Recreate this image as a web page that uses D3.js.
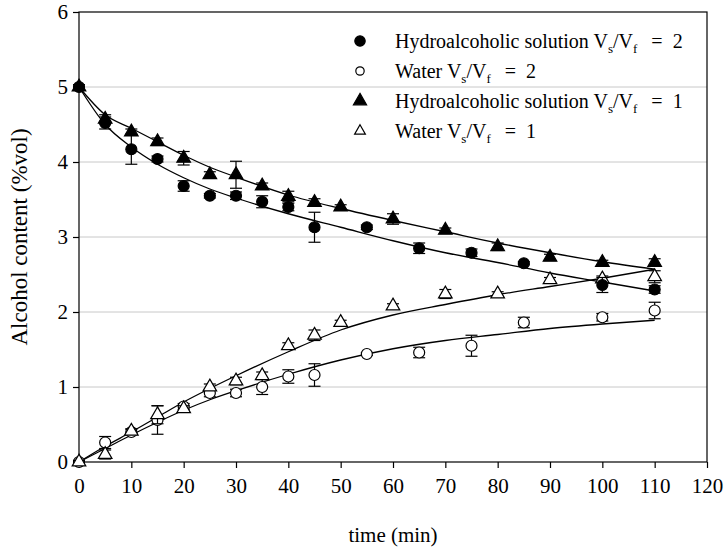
<!DOCTYPE html>
<html>
<head>
<meta charset="utf-8">
<script src="https://cdn.jsdelivr.net/npm/d3@7"></script>
<style>
  body { margin: 0; background: #fff; }
  svg text { font-family: "Liberation Serif", "Times New Roman", "DejaVu Serif", serif !important; fill: #000; }
</style>
</head>
<body>
<svg id="chart" width="724" height="549"></svg>
<script>
// measured points (time in min, alcohol %vol, +/- error)
const hydro2T = [0, 5, 10, 15, 20, 25, 30, 35, 40, 45, 55, 65, 75, 85, 100, 110];
const hydro2V = [5.0, 4.52, 4.17, 4.04, 3.68, 3.55, 3.55, 3.47, 3.40, 3.13, 3.13, 2.85, 2.79, 2.65, 2.36, 2.30];
const hydro2E = [0.03, 0.08, 0.2, 0.04, 0.07, 0.03, 0.05, 0.08, 0.05, 0.2, 0.03, 0.07, 0.05, 0.02, 0.1, 0.05];

const water2T = [0, 5, 10, 15, 20, 25, 30, 35, 40, 45, 55, 65, 75, 85, 100, 110];
const water2V = [0.0, 0.26, 0.40, 0.56, 0.74, 0.92, 0.92, 1.00, 1.14, 1.16, 1.44, 1.46, 1.55, 1.86, 1.93, 2.02];
const water2E = [0.02, 0.08, 0.04, 0.19, 0.04, 0.05, 0.05, 0.1, 0.09, 0.15, 0.02, 0.07, 0.14, 0.07, 0.05, 0.11];

const hydro1T = [0, 5, 10, 15, 20, 25, 30, 35, 40, 45, 50, 60, 70, 80, 90, 100, 110];
const hydro1V = [5.0, 4.57, 4.40, 4.27, 4.05, 3.83, 3.83, 3.68, 3.54, 3.46, 3.40, 3.24, 3.09, 2.87, 2.73, 2.66, 2.66];
const hydro1E = [0.03, 0.06, 0.04, 0.05, 0.09, 0.04, 0.18, 0.04, 0.07, 0.05, 0.03, 0.07, 0.03, 0.05, 0.04, 0.03, 0.05];

const water1T = [0, 5, 10, 15, 20, 25, 30, 35, 40, 45, 50, 60, 70, 80, 90, 100, 110];
const water1V = [0.0, 0.10, 0.41, 0.63, 0.71, 1.00, 1.08, 1.15, 1.55, 1.69, 1.86, 2.08, 2.24, 2.24, 2.43, 2.44, 2.47];
const water1E = [0.02, 0.06, 0.03, 0.12, 0.04, 0.04, 0.05, 0.05, 0.04, 0.07, 0.03, 0.03, 0.06, 0.03, 0.03, 0.04, 0.08];

// fitted curves
const fitT = [0, 5, 10, 15, 20, 25, 30, 40, 50, 60, 70, 80, 90, 100, 110];
const fitHydro2 = [5.0, 4.50, 4.20, 3.97, 3.79, 3.64, 3.52, 3.31, 3.13, 2.95, 2.79, 2.66, 2.52, 2.40, 2.28];
const fitHydro1 = [5.0, 4.63, 4.45, 4.27, 4.09, 3.93, 3.80, 3.56, 3.38, 3.22, 3.07, 2.92, 2.79, 2.67, 2.57];
const fitWater1 = [0.0, 0.21, 0.40, 0.60, 0.80, 0.98, 1.15, 1.47, 1.76, 1.96, 2.10, 2.23, 2.34, 2.45, 2.57];
const fitWater2 = [0.0, 0.18, 0.36, 0.53, 0.69, 0.83, 0.95, 1.17, 1.36, 1.51, 1.62, 1.70, 1.78, 1.84, 1.89];

const xTicks = d3.range(0, 121, 10);
const yTicks = [0, 1, 2, 3, 4, 5, 6];

const legendNames = ["Hydroalcoholic solution", "Water", "Hydroalcoholic solution", "Water"];
const legendRatio = ["2", "2", "1", "1"];

const svg = d3.select("#chart");
const margin = { top: 12, right: 17, bottom: 87, left: 79 };
const width = 724 - margin.left - margin.right;
const height = 549 - margin.top - margin.bottom;

const x = d3.scaleLinear().domain([0, 120]).range([margin.left, margin.left + width]);
const y = d3.scaleLinear().domain([0, 6]).range([margin.top + height, margin.top]);

// grid
svg.append("g")
    .selectAll("line")
    .data(yTicks.filter(d => d > 0 && d < 6))
    .enter()
    .append("line")
    .attr("x1", x(0)).attr("x2", x(120))
    .attr("y1", d => y(d)).attr("y2", d => y(d))
    .style("stroke", "#c8c8c8")
    .style("stroke-width", 1);

// frame
svg.append("rect")
    .attr("x", x(0)).attr("y", y(6))
    .attr("width", x(120) - x(0)).attr("height", y(0) - y(6))
    .style("fill", "none").style("stroke", "#000").style("stroke-width", 1.2);

const xAxis = svg.append("g")
    .attr("transform", `translate(0,${y(0)})`)
    .call(d3.axisBottom(x).tickValues(xTicks).tickSize(6).tickPadding(10));
const yAxis = svg.append("g")
    .attr("transform", `translate(${x(0)},0)`)
    .call(d3.axisLeft(y).tickValues(yTicks).tickSize(6).tickPadding(5).tickFormat(d3.format("d")));
[xAxis, yAxis].forEach(a => {
    a.select(".domain").remove();
    a.attr("font-family", null).attr("font-size", null);
    a.selectAll("line").style("stroke", "#000").style("stroke-width", 1.2);
    a.selectAll("text").style("font-size", "21px");
});

// fitted lines
const line = d3.line().x(d => x(d[0])).y(d => y(d[1])).curve(d3.curveMonotoneX);
[fitHydro2, fitHydro1, fitWater1, fitWater2].forEach(vals => {
    svg.append("path")
        .datum(fitT.map((t, i) => [t, vals[i]]))
        .attr("d", line)
        .style("fill", "none")
        .style("stroke", "#000")
        .style("stroke-width", 1.3);
});

const series = [
    { t: water2T, v: water2V, e: water2E, type: d3.symbolCircle, size: 95, fill: "#fff" },
    { t: water1T, v: water1V, e: water1E, type: d3.symbolTriangle, size: 80, fill: "#fff" },
    { t: hydro2T, v: hydro2V, e: hydro2E, type: d3.symbolCircle, size: 95, fill: "#000" },
    { t: hydro1T, v: hydro1V, e: hydro1E, type: d3.symbolTriangle, size: 80, fill: "#000" }
];

series.forEach(s => {
    const pts = s.t.map((t, i) => ({ t: t, v: s.v[i], e: s.e[i] }));
    const g = svg.append("g");
    const eb = g.selectAll(".err").data(pts).enter().append("g");
    eb.append("line")
        .attr("x1", d => x(d.t)).attr("x2", d => x(d.t))
        .attr("y1", d => y(d.v - d.e)).attr("y2", d => y(d.v + d.e));
    eb.append("line")
        .attr("x1", d => x(d.t) - 6).attr("x2", d => x(d.t) + 6)
        .attr("y1", d => y(d.v - d.e)).attr("y2", d => y(d.v - d.e));
    eb.append("line")
        .attr("x1", d => x(d.t) - 6).attr("x2", d => x(d.t) + 6)
        .attr("y1", d => y(d.v + d.e)).attr("y2", d => y(d.v + d.e));
    eb.selectAll("line").style("stroke", "#000").style("stroke-width", 1.2);
    g.selectAll(".pt").data(pts).enter().append("path")
        .attr("d", d3.symbol().type(s.type).size(s.size))
        .attr("transform", d => `translate(${x(d.t)},${y(d.v)})`)
        .style("fill", s.fill).style("stroke", "#000").style("stroke-width", 1.2);
});

// legend
const legendSym = [
    { type: d3.symbolCircle, size: 85, fill: "#000" },
    { type: d3.symbolCircle, size: 55, fill: "#fff" },
    { type: d3.symbolTriangle, size: 75, fill: "#000" },
    { type: d3.symbolTriangle, size: 50, fill: "#fff" }
];
legendNames.forEach((name, i) => {
    const ly = 41 + i * 30;
    svg.append("path")
        .attr("d", d3.symbol().type(legendSym[i].type).size(legendSym[i].size))
        .attr("transform", `translate(360,${ly})`)
        .style("fill", legendSym[i].fill).style("stroke", "#000").style("stroke-width", 1.2);
    const txt = svg.append("text")
        .attr("x", 395).attr("y", ly + 7)
        .style("font-size", "20px");
    txt.append("tspan").text(name + " V");
    txt.append("tspan").text("s").attr("dy", 5).style("font-size", "13px");
    txt.append("tspan").text("/V").attr("dy", -5);
    txt.append("tspan").text("f").attr("dy", 5).style("font-size", "13px");
    txt.append("tspan").text("=").attr("dy", -5).attr("dx", 14);
    txt.append("tspan").text(legendRatio[i]).attr("dx", 10);
});

// axis titles
svg.append("text")
    .attr("x", x(60)).attr("y", 542)
    .attr("text-anchor", "middle")
    .style("font-size", "21px")
    .text("time (min)");
svg.append("text")
    .attr("transform", `translate(27,${y(3)}) rotate(-90)`)
    .attr("text-anchor", "middle")
    .style("font-size", "23px")
    .text("Alcohol content (%vol)");
</script>
</body>
</html>
